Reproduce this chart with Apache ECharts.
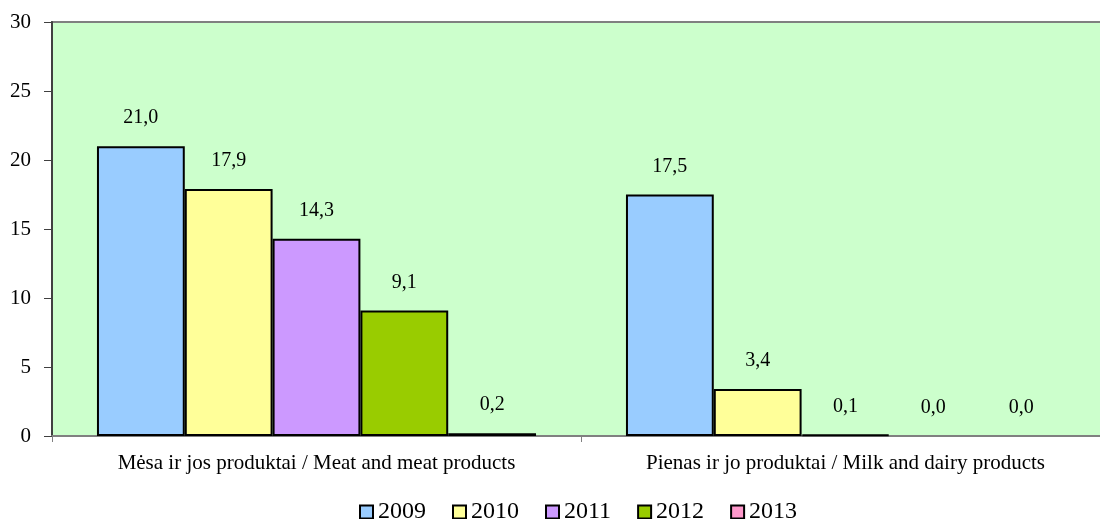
<!DOCTYPE html>
<html><head><meta charset="utf-8">
<script src="https://cdn.jsdelivr.net/npm/echarts@6/dist/echarts.min.js"></script>
<style>html,body{margin:0;padding:0;background:#fff}#c{width:1100px;height:519px}</style>
</head><body><div id="c"></div>
<script>
var categories = ['Mėsa ir jos produktai / Meat and meat products', 'Pienas ir jo produktai / Milk and dairy products'];
var years = ['2009', '2010', '2011', '2012', '2013'];
var v2009 = [21.0, 17.5];
var v2010 = [17.9, 3.4];
var v2011 = [14.3, 0.1];
var v2012 = [9.1, 0.0];
var v2013 = [0.2, 0.0];
var colors = ['#99CCFF', '#FFFF99', '#CC99FF', '#99CC00', '#FF99CC'];
var allValues = [v2009, v2010, v2011, v2012, v2013];
var font = '"Liberation Serif", "Times New Roman", serif';

var chart = echarts.init(document.getElementById('c'));
chart.setOption({
  animation: false,
  textStyle: { fontFamily: font },
  grid: { left: 52, right: -10, top: 22, bottom: 83, outerBoundsMode: 'none', containLabel: false, show: true, backgroundColor: '#CCFFCC', borderColor: '#808080', borderWidth: 2 },
  legend: {
    top: 495, left: 354, itemWidth: 13, itemHeight: 13, itemGap: 26,
    icon: 'rect',
    itemStyle: { borderColor: '#000', borderWidth: 2 },
    textStyle: { fontFamily: font, fontSize: 24, color: '#000', padding: [0, 0, 0, 0] },
    data: years
  },
  xAxis: {
    type: 'category', data: categories,
    axisLine: { lineStyle: { color: '#808080', width: 2 } },
    axisTick: { show: true, alignWithLabel: false, length: 6, lineStyle: { color: '#808080' } },
    axisLabel: { fontFamily: font, fontSize: 21, color: '#000', margin: 17 }
  },
  yAxis: {
    type: 'value', min: 0, max: 30, interval: 5,
    axisLine: { show: true, lineStyle: { color: '#404040', width: 2 } },
    axisTick: { show: true, length: 8, lineStyle: { color: '#404040' } },
    splitLine: { show: false },
    axisLabel: { fontFamily: font, fontSize: 21, color: '#000', margin: 21 }
  },
  series: years.map(function (y, i) {
    return {
      name: y, type: 'bar',
      data: allValues[i].map(function (v) {
        return { value: v, itemStyle: { borderWidth: v === 0 ? 0 : 2 } };
      }),
      barGap: '0%', barCategoryGap: '17%',
      itemStyle: { color: colors[i], borderColor: '#000', borderWidth: 2 },
      label: {
        show: true, position: 'top', distance: 18, fontFamily: font, fontSize: 20, color: '#000',
        formatter: function (p) { return p.value.toFixed(1).replace('.', ','); }
      }
    };
  })
});
</script></body></html>
